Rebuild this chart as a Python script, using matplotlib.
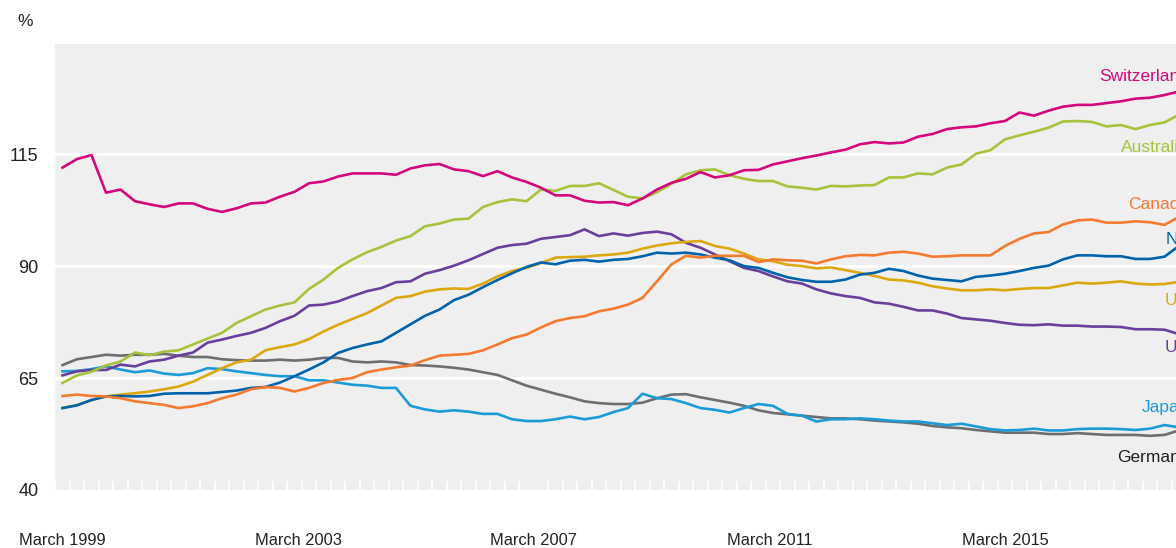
import matplotlib
matplotlib.use("Agg")
import matplotlib.pyplot as plt
import numpy as np

plt.rcParams['font.family'] = ['Liberation Sans', 'DejaVu Sans']

# quarterly, March 1999 onwards
switzerland = [112.0, 113.9, 114.8, 106.4, 107.1, 104.5, 103.8, 103.2, 104.0, 104.0, 102.8, 102.1, 102.9,
               104.0, 104.2, 105.5, 106.6, 108.5, 108.9, 110.0, 110.7, 110.7, 110.7, 110.4, 111.8, 112.5,
               112.8, 111.6, 111.2, 110.1, 111.2, 109.8, 108.8, 107.5, 105.8, 105.8, 104.6, 104.2, 104.3,
               103.6, 105.1, 107.1, 108.6, 109.5, 111.0, 109.8, 110.3, 111.4, 111.5, 112.7, 113.4,
               114.1, 114.7, 115.4, 116.0, 117.2, 117.7, 117.4, 117.6, 118.9, 119.5, 120.6, 121.0, 121.2,
               121.9, 122.4, 124.3, 123.6, 124.7, 125.6, 126.0, 126.0, 126.4, 126.8, 127.4, 127.6, 128.2,
               129.0]
australia = [63.9, 65.6, 66.4, 67.8, 68.7, 70.7, 70.1, 70.9, 71.2, 72.5, 73.8, 75.1, 77.3,
             78.8, 80.3, 81.2, 81.9, 84.9, 87.0, 89.6, 91.5, 93.1, 94.3, 95.7, 96.7, 98.9,
             99.5, 100.4, 100.6, 103.2, 104.3, 104.9, 104.5, 107.1, 106.8, 107.9, 107.9, 108.5, 107.0,
             105.5, 105.1, 106.5, 108.4, 110.5, 111.4, 111.6, 110.3, 109.5, 109.0, 109.0, 107.8,
             107.5, 107.1, 107.9, 107.8, 108.0, 108.1, 109.8, 109.8, 110.7, 110.5, 112.0, 112.7, 115.1,
             115.9, 118.3, 119.2, 120.0, 120.9, 122.3, 122.4, 122.2, 121.2, 121.5, 120.6, 121.5, 122.1,
             123.8]
canada = [61.0, 61.3, 61.0, 60.9, 60.5, 59.8, 59.4, 59.0, 58.3, 58.7, 59.4, 60.5, 61.3,
          62.5, 63.0, 62.8, 62.0, 62.8, 63.9, 64.6, 65.0, 66.3, 66.9, 67.4, 67.8, 69.0,
          70.0, 70.2, 70.4, 71.2, 72.5, 73.9, 74.7, 76.3, 77.7, 78.4, 78.8, 79.9, 80.5,
          81.4, 82.9, 86.6, 90.4, 92.3, 91.9, 92.3, 92.3, 92.3, 90.9, 91.5, 91.3,
          91.2, 90.6, 91.5, 92.2, 92.5, 92.4, 93.0, 93.2, 92.8, 92.1, 92.2, 92.4, 92.4,
          92.4, 94.5, 96.1, 97.3, 97.6, 99.3, 100.2, 100.4, 99.7, 99.7, 100.0, 99.8, 99.2,
          101.0]
nz = [58.3, 58.9, 60.1, 60.9, 61.0, 60.9, 61.0, 61.5, 61.6, 61.6, 61.6, 61.9, 62.2,
      62.8, 63.0, 64.0, 65.4, 66.9, 68.5, 70.6, 71.7, 72.5, 73.2, 75.1, 77.0, 78.9,
      80.3, 82.4, 83.6, 85.3, 86.9, 88.4, 89.8, 90.8, 90.4, 91.2, 91.4, 91.0, 91.4,
      91.6, 92.2, 93.0, 92.8, 93.0, 92.6, 91.9, 91.3, 90.0, 89.6, 88.5, 87.5,
      86.9, 86.5, 86.5, 87.0, 88.1, 88.5, 89.4, 88.9, 87.9, 87.2, 86.9, 86.6, 87.6,
      87.9, 88.3, 88.9, 89.6, 90.1, 91.5, 92.4, 92.4, 92.2, 92.2, 91.6, 91.6, 92.1,
      94.5]
uk = [58.3, 59.0, 60.1, 60.9, 61.3, 61.6, 62.0, 62.5, 63.1, 64.2, 65.7, 67.2, 68.5,
      69.1, 71.2, 71.9, 72.5, 73.7, 75.4, 76.9, 78.2, 79.5, 81.2, 82.9, 83.3, 84.3,
      84.8, 85.0, 84.9, 86.1, 87.7, 88.9, 89.6, 90.7, 91.9, 92.0, 92.1, 92.4, 92.6,
      93.0, 93.9, 94.6, 95.1, 95.4, 95.6, 94.5, 93.9, 92.8, 91.5, 91.1, 90.3,
      90.0, 89.5, 89.7, 89.1, 88.5, 87.8, 87.0, 86.8, 86.3, 85.5, 85.0, 84.6, 84.6,
      84.8, 84.6, 84.9, 85.1, 85.1, 85.7, 86.3, 86.1, 86.3, 86.6, 86.1, 85.9, 86.0,
      86.5]
us = [65.6, 66.5, 66.8, 66.8, 68.0, 67.6, 68.7, 69.1, 70.0, 70.7, 72.9, 73.6, 74.4,
      75.1, 76.2, 77.7, 78.9, 81.2, 81.4, 82.1, 83.3, 84.4, 85.1, 86.4, 86.6, 88.3,
      89.1, 90.1, 91.3, 92.7, 94.1, 94.7, 95.0, 96.1, 96.5, 96.9, 98.2, 96.7, 97.3,
      96.8, 97.4, 97.7, 97.1, 95.2, 94.1, 92.6, 91.1, 89.6, 88.9, 87.7, 86.6,
      86.1, 84.8, 83.9, 83.3, 82.9, 81.9, 81.6, 80.9, 80.1, 80.1, 79.4, 78.4, 78.1,
      77.8, 77.3, 76.9, 76.8, 77.0, 76.7, 76.7, 76.5, 76.5, 76.4, 75.9, 75.9, 75.8,
      74.8]
germany = [67.9, 69.2, 69.7, 70.2, 70.0, 70.2, 70.2, 70.4, 70.0, 69.7, 69.7, 69.2, 69.0,
           68.9, 68.9, 69.1, 68.9, 69.1, 69.5, 69.5, 68.7, 68.5, 68.7, 68.5, 67.9, 67.8,
           67.6, 67.3, 66.9, 66.3, 65.7, 64.5, 63.3, 62.4, 61.5, 60.7, 59.8, 59.4, 59.2,
           59.2, 59.5, 60.5, 61.3, 61.4, 60.7, 60.1, 59.5, 58.8, 57.8, 57.2, 56.9,
           56.6, 56.3, 56.0, 56.0, 55.8, 55.5, 55.3, 55.1, 54.8, 54.3, 54.0, 53.8, 53.4,
           53.1, 52.8, 52.8, 52.8, 52.5, 52.5, 52.7, 52.5, 52.3, 52.3, 52.3, 52.1, 52.3,
           53.3]
japan = [66.5, 66.6, 67.0, 67.6, 66.9, 66.3, 66.7, 66.0, 65.7, 66.1, 67.2, 67.0, 66.5,
         66.1, 65.7, 65.4, 65.4, 64.5, 64.5, 64.0, 63.5, 63.3, 62.8, 62.8, 58.8, 58.0,
         57.5, 57.8, 57.5, 57.0, 57.0, 55.8, 55.4, 55.4, 55.8, 56.4, 55.8, 56.3, 57.4,
         58.3, 61.5, 60.5, 60.3, 59.4, 58.3, 57.9, 57.3, 58.3, 59.2, 58.8, 57.0,
         56.6, 55.3, 55.8, 55.8, 56.0, 55.8, 55.5, 55.3, 55.3, 54.9, 54.5, 54.8, 54.2,
         53.6, 53.3, 53.4, 53.7, 53.3, 53.3, 53.6, 53.7, 53.7, 53.6, 53.4, 53.7, 54.5,
         54.0]

year_labels = ["March 1999", "March 2003", "March 2007", "March 2011", "March 2015"]
y_ticks = [40, 65, 90, 115]

# name, values, line colour, label colour, label y
series = [
    ("Germany", germany, "#6d6e71", "#231f20", 47.2),
    ("Japan", japan, "#1b9bd7", "#1b9bd7", 58.4),
    ("US", us, "#6a3f9c", "#6a3f9c", 71.8),
    ("UK", uk, "#dba90f", "#dba90f", 82.3),
    ("NZ", nz, "#0063ab", "#0063ab", 96.0),
    ("Canada", canada, "#f47a30", "#f47a30", 103.8),
    ("Australia", australia, "#a6c33b", "#a6c33b", 116.5),
    ("Switzerland", switzerland, "#d4087d", "#d4087d", 132.4),
]

fig = plt.figure(figsize=(11.76, 5.48), dpi=100)
ax = fig.add_axes([55 / 1176, 58 / 548, 1145 / 1176, 446 / 548])
ax.set_facecolor("#efefef")
for s in ax.spines.values():
    s.set_visible(False)

for y in y_ticks[1:]:
    ax.axhline(y, color="white", lw=2.2, zorder=1)

label_x = 77.69  # labels right-aligned just past the right edge
for name, vals, col, tcol, ly in series:
    ax.plot(np.arange(len(vals)), vals, color=col, lw=1.9, zorder=3, solid_joinstyle="round")
    ax.text(label_x, ly, name, color=tcol, fontsize=12.5, ha="right", va="center", zorder=4)

ax.set_xlim(-0.517, 78.45)
ax.set_ylim(40, 139.6)

ax.set_yticks(y_ticks)
ax.set_yticklabels([str(v) for v in y_ticks])
ax.tick_params(axis="y", length=0, pad=12, labelsize=13, labelcolor="#222222")

ax.set_xticks(np.arange(len(year_labels)) * 16.25)
ax.set_xticklabels(year_labels)
ax.tick_params(axis="x", which="major", length=0, pad=31, labelsize=11.8, labelcolor="#222222")
ax.set_xticks(np.arange(len(switzerland)) - 0.5, minor=True)
ax.tick_params(axis="x", which="minor", direction="in", length=6.5, width=1.4, color="white")

fig.text(17 / 1176, 1 - 22 / 548, "%", fontsize=12.5, color="#222222", ha="left", va="center")

fig.savefig("out.png", dpi=100)
